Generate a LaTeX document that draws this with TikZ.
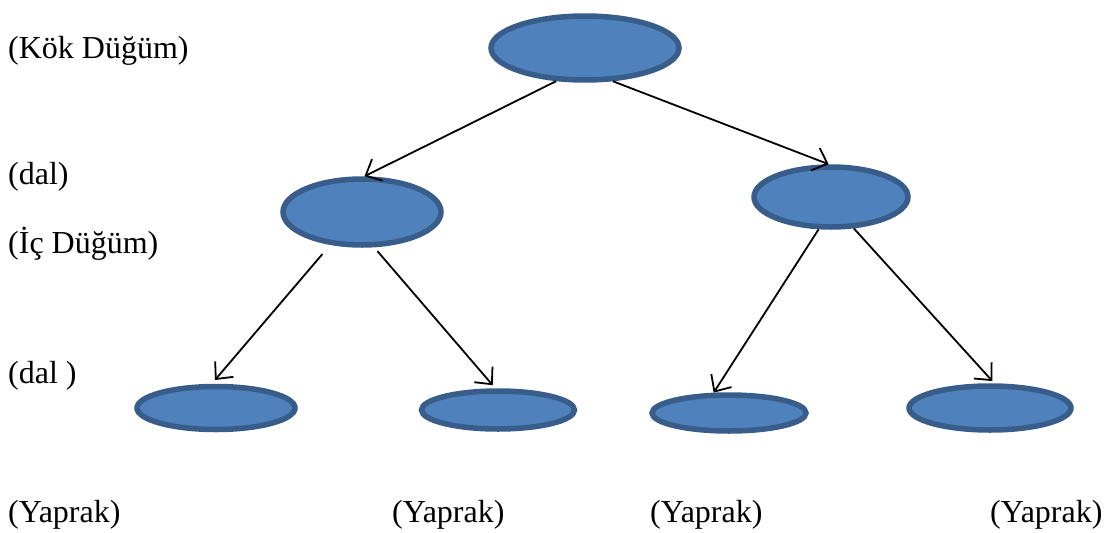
\documentclass[tikz,border=0pt]{standalone}
\usepackage{fontspec}
\setmainfont{Liberation Serif}
\usepackage{tikz}
\usetikzlibrary{positioning,arrows.meta}
\usetikzlibrary{shapes.geometric}
\definecolor{dugfill}{HTML}{4F81BD}
\definecolor{dugdraw}{HTML}{385D8A}
\tikzset{
  treenode/.style = {align=center, inner sep=0pt, text centered},
  dug_n/.style = {treenode, ellipse, fill=dugfill, draw=dugdraw,
    line width=5.5pt},% dugum
  etiket/.style = {anchor=base west, inner sep=0pt,
    font=\fontsize{32}{37}\selectfont}% sol ve alt yazilar
}

\begin{document}
\begin{tikzpicture}[x=1pt,y=-1pt,
  >={Straight Barb[length=13pt,width=24pt]}]
\useasboundingbox (0,0) rectangle (1117,533);
% kok
    \node (K) [dug_n, minimum width=188pt, minimum height=64pt] at (585,48) {};
% ic dugumler
    \node (I1) [dug_n, minimum width=158pt, minimum height=66pt] at (362,212) {};
    \node (I2) [dug_n, minimum width=154pt, minimum height=60pt] at (831,197) {};
% yapraklar
    \node (Y1) [dug_n, minimum width=158pt, minimum height=43pt] at (216,408) {};
    \node (Y2) [dug_n, minimum width=153pt, minimum height=38pt] at (498,410) {};
    \node (Y3) [dug_n, minimum width=154pt, minimum height=36pt] at (729,413) {};
    \node (Y4) [dug_n, minimum width=162pt, minimum height=44pt] at (990,408) {};
%
\draw[->,line width=1.8pt] (K.229) -- (I1.86);
\draw[->,line width=1.8pt] (K.310) -- (I2.94);
%
\draw[->,line width=1.8pt,shorten <=12pt,shorten >=5pt] (I1.226) -- (Y1.100);
\draw[->,line width=1.8pt,shorten <=5pt,shorten >=4pt] (I1.289) -- (Y2.97);
\draw[->,line width=1.8pt] (I2.249) -- (Y3.127);
\draw[->,line width=1.8pt,shorten >=3pt] (I2.306) -- (Y4.80);
%
%
\node (tK)  [etiket] at (8,58)  {(Kök Düğüm)};
\node (tD1) [etiket] at (8,184) {(dal)};
\node (tI)  [etiket] at (8,253) {(İç Düğüm)};
\node (tD2) [etiket] at (8,383) {(dal )};
%
\node (tY1) [etiket] at (8,522)   {(Yaprak)};
\node (tY2) [etiket] at (392,522) {(Yaprak)};
\node (tY3) [etiket] at (650,522) {(Yaprak)};
\node (tY4) [etiket] at (990,522) {(Yaprak)};

\end{tikzpicture}
\end{document}
